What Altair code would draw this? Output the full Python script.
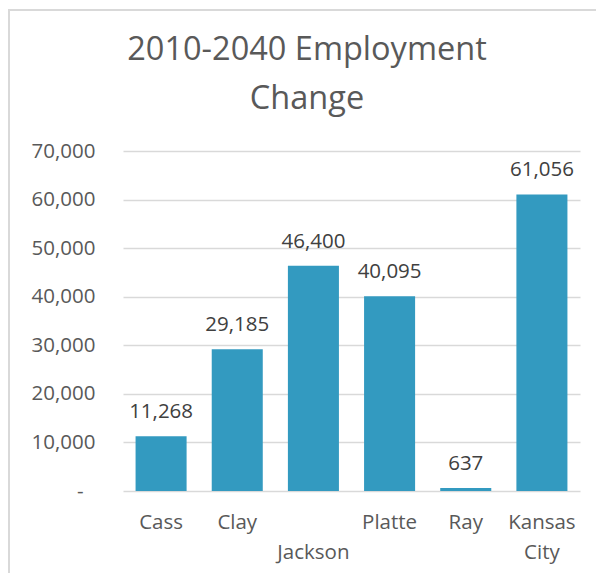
import altair as alt
import pandas as pd

categories = ["Cass", "Clay", "Jackson", "Platte", "Ray", "Kansas City"]
values = [11268, 29185, 46400, 40095, 637, 61056]
y_ticks = [0, 10000, 20000, 30000, 40000, 50000, 60000, 70000]
title_lines = ["2010-2040 Employment", "Change"]

df = pd.DataFrame({"county": categories, "change": values})

FONT = "Open Sans"
GRAY = "#595959"

x_enc = alt.X(
    "county:N",
    sort=categories,
    scale=alt.Scale(paddingInner=0.33, paddingOuter=0.165),
    axis=alt.Axis(
        title=None,
        domain=False,
        ticks=False,
        grid=False,
        labelAngle=0,
        labelFont=FONT,
        labelFontSize=20.5,
        labelColor=GRAY,
        labelPadding=21,
        labelBaseline="top",
        labelLineHeight=30,
        labelExpr="datum.value == 'Jackson' ? ['', 'Jackson'] : datum.value == 'Kansas City' ? ['Kansas', 'City'] : datum.value",
    ),
)
y_enc = alt.Y(
    "change:Q",
    scale=alt.Scale(domain=[0, 70000], nice=False),
    axis=alt.Axis(
        title=None,
        domain=False,
        ticks=False,
        values=y_ticks,
        grid=True,
        gridColor="#D9D9D9",
        gridWidth=1.3,
        labelFont=FONT,
        labelFontSize=20.5,
        labelColor=GRAY,
        labelPadding={"condition": {"test": "datum.value === 0", "value": 40}, "value": 28},
        labelExpr="datum.value == 0 ? '-' : format(datum.value, ',')",
    ),
)

bars = alt.Chart(df).mark_bar(color="#339AC0").encode(x=x_enc, y=y_enc)

labels = alt.Chart(df).mark_text(
    font=FONT, fontSize=20.5, color="#404040", baseline="alphabetic", dy=-18
).encode(x=alt.X("county:N", sort=categories), y="change:Q", text=alt.Text("change:Q", format=","))

one = alt.Data(values=[{"a": 1}])
border_top = alt.Chart(one).mark_rule(color="#D9D9D9", strokeWidth=2).encode(
    x=alt.value(-114), x2=alt.value(480), y=alt.value(-141)
)
border_left = alt.Chart(one).mark_rule(color="#D9D9D9", strokeWidth=2).encode(
    x=alt.value(-114), y=alt.value(-142), y2=alt.value(430)
)

title = alt.Chart(one).mark_text(
    text=title_lines,
    font=FONT,
    fontSize=32.5,
    color=GRAY,
    lineHeight=49,
    baseline="alphabetic",
    align="center",
).encode(x=alt.value(184), y=alt.value(-91))

chart = alt.layer(bars, labels, border_top, border_left, title).properties(
    width=457,
    height=340,
    padding={"left": 115, "top": 143, "right": 16, "bottom": 82},
    autosize=alt.AutoSizeParams(type="none"),
    background="white",
).configure_view(stroke=None, strokeWidth=0)

chart.save("out.html", embed_options={"renderer": "svg", "actions": False})
